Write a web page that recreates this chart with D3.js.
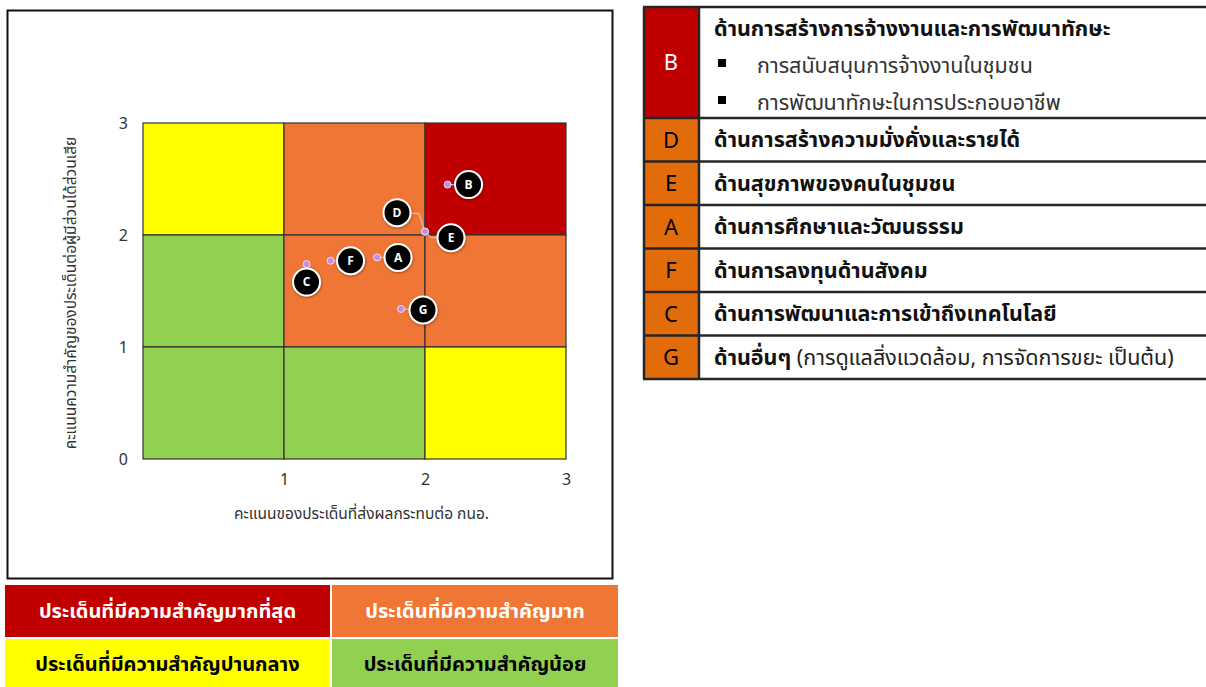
<!DOCTYPE html>
<html>
<head>
<meta charset="utf-8">
<script src="https://cdn.jsdelivr.net/npm/d3@7"></script>
<style>
  body { margin: 0; background: #fff; }
  svg { display: block; }
  text { font-family: "Noto Sans Thai", Tahoma, "Leelawadee UI", "Noto Sans", sans-serif; }
</style>
</head>
<body>
<div id="chart"></div>
<script>
// Chart data
const issueIds = ["B", "D", "E", "A", "F", "C", "G"];
const impactScore = [2.16, 2.0, 2.0, 1.66, 1.33, 1.16, 1.83];      // x
const stakeholderScore = [2.45, 2.03, 2.03, 1.80, 1.77, 1.74, 1.34]; // y
const xTicks = [1, 2, 3];
const yTicks = [0, 1, 2, 3];
// quadrant colours, rows from top (y 2-3) to bottom (y 0-1)
const zoneGrid = [
  ["yellow", "orange", "red"],
  ["green", "orange", "orange"],
  ["green", "green", "yellow"]
];
const xTitle = "คะแนนของประเด็นที่ส่งผลกระทบต่อ กนอ.";
const yTitle = "คะแนนความสำคัญของประเด็นต่อผู้มีส่วนได้ส่วนเสีย";

// Table data
const tableIds = ["B", "D", "E", "A", "F", "C", "G"];
const tableTitles = [
  "ด้านการสร้างการจ้างงานและการพัฒนาทักษะ",
  "ด้านการสร้างความมั่งคั่งและรายได้",
  "ด้านสุขภาพของคนในชุมชน",
  "ด้านการศึกษาและวัฒนธรรม",
  "ด้านการลงทุนด้านสังคม",
  "ด้านการพัฒนาและการเข้าถึงเทคโนโลยี",
  "ด้านอื่นๆ"
];
const tableNotes = ["", "", "", "", "", "", " (การดูแลสิ่งแวดล้อม, การจัดการขยะ เป็นต้น)"];
const bSubItems = ["การสนับสนุนการจ้างงานในชุมชน", "การพัฒนาทักษะในการประกอบอาชีพ"];

// Legend data
const legendLabels = [
  "ประเด็นที่มีความสำคัญมากที่สุด",
  "ประเด็นที่มีความสำคัญมาก",
  "ประเด็นที่มีความสำคัญปานกลาง",
  "ประเด็นที่มีความสำคัญน้อย"
];
const legendZones = ["red", "orange", "yellow", "green"];

// styles
const zoneColor = { red: "#C00000", orange: "#EF7634", yellow: "#FFFF00", green: "#92D050" };
const legendText = { red: "#fff", orange: "#fff", yellow: "#000", green: "#000" };
// label bubble placement relative to its dot (pixels)
const labelOffset = {
  B: [21, 0], D: [-28, -19], E: [26, 6], A: [21, 0], F: [20, 0], C: [0, 18], G: [22, 1]
};

const W = 1206, H = 687;
const svg = d3.select("#chart").append("svg").attr("width", W).attr("height", H);

const defs = svg.append("defs");
const sh = defs.append("filter").attr("id", "shadow").attr("x", "-50%").attr("y", "-50%").attr("width", "200%").attr("height", "200%");
sh.append("feDropShadow").attr("dx", 0.5).attr("dy", 1).attr("stdDeviation", 1).attr("flood-color", "#000").attr("flood-opacity", 0.4);

// Frame around chart
svg.append("rect").attr("x", 7.5).attr("y", 10.5).attr("width", 605).attr("height", 568)
  .attr("fill", "#fff").attr("stroke", "#111").attr("stroke-width", 2);

const x = d3.scaleLinear().domain([0, 3]).range([143, 566]);
const y = d3.scaleLinear().domain([0, 3]).range([459, 123]);

const plot = svg.append("g");

// quadrants
const cells = [];
zoneGrid.forEach((row, r) => row.forEach((z, c) => cells.push({ r, c, z })));
plot.selectAll("rect.cell").data(cells).join("rect")
  .attr("class", "cell")
  .attr("x", d => x(d.c))
  .attr("y", d => y(3 - d.r))
  .attr("width", d => x(d.c + 1) - x(d.c))
  .attr("height", d => y(2 - d.r) - y(3 - d.r))
  .attr("fill", d => zoneColor[d.z])
  .attr("stroke", "#333")
  .attr("stroke-width", 1.2);

// axes
const xAxis = svg.append("g").attr("transform", `translate(0,${y(0) + 9})`)
  .call(d3.axisBottom(x).tickValues(xTicks).tickSize(0).tickFormat(d3.format("d")));
xAxis.select(".domain").remove();
xAxis.selectAll("text").attr("font-size", 16).attr("fill", "#333").attr("dy", "0.9em")
  .attr("font-family", "Tahoma, 'DejaVu Sans', sans-serif");

const yAxis = svg.append("g").attr("transform", `translate(${x(0) - 12},0)`)
  .call(d3.axisLeft(y).tickValues(yTicks).tickSize(0).tickFormat(d3.format("d")));
yAxis.select(".domain").remove();
yAxis.selectAll("text").attr("font-size", 16).attr("fill", "#333")
  .attr("font-family", "Tahoma, 'DejaVu Sans', sans-serif");

svg.append("text").attr("x", (x(0) + x(3)) / 2 + 7).attr("y", 519)
  .attr("text-anchor", "middle").attr("font-size", 15.5).attr("fill", "#333").text(xTitle);
svg.append("text").attr("transform", `translate(76,${(y(0) + y(3)) / 2 + 2}) rotate(-90)`)
  .attr("text-anchor", "middle").attr("font-size", 15.5).attr("fill", "#333").text(yTitle);

// points
const pts = issueIds.map((id, i) => {
  const px = x(impactScore[i]), py = y(stakeholderScore[i]);
  const o = labelOffset[id];
  return { id, px, py, lx: px + o[0], ly: py + o[1] };
});

// leader lines
plot.selectAll("path.leader").data(pts).join("path")
  .attr("class", "leader")
  .attr("d", d => {
    if (d.id === "D") return `M${d.px},${d.py} L${d.px - 6},${d.ly + 1} L${d.lx},${d.ly}`;
    if (d.id === "E") return `M${d.px},${d.py} L${d.px + 6},${d.ly} L${d.lx},${d.ly}`;
    return `M${d.px},${d.py} L${d.lx},${d.ly}`;
  })
  .attr("fill", "none").attr("stroke", "#c8c8c8").attr("stroke-width", 1.2);

plot.selectAll("circle.dot").data(pts).join("circle")
  .attr("class", "dot")
  .attr("cx", d => d.px).attr("cy", d => d.py).attr("r", 3.5)
  .attr("fill", "#c38ee6").attr("stroke", "#f0dcf5").attr("stroke-width", 1);

const bub = plot.selectAll("g.bubble").data(pts).join("g")
  .attr("class", "bubble")
  .attr("transform", d => `translate(${d.lx},${d.ly})`);
bub.append("circle").attr("r", 13.5).attr("fill", "#000")
  .attr("stroke", "#fff").attr("stroke-width", 2).attr("filter", "url(#shadow)");
bub.append("text").attr("text-anchor", "middle").attr("dy", "0.36em")
  .attr("font-size", 12).attr("font-weight", "bold").attr("fill", "#fff")
  .attr("font-family", "Tahoma, 'DejaVu Sans', sans-serif")
  .text(d => d.id);

// Table
const tx0 = 643, tx1 = 699, tx2 = 1206;
const rowTops = [7, 118];
for (let i = 1; i < tableIds.length; i++) rowTops.push(118 + i * 43.5);
const rows = tableIds.map((id, i) => ({
  id, title: tableTitles[i], note: tableNotes[i],
  y0: rowTops[i], y1: i === 0 ? 118 : rowTops[i] + 43.5
}));
const table = svg.append("g");
table.selectAll("rect.idcell").data(rows).join("rect")
  .attr("class", "idcell")
  .attr("x", tx0).attr("y", d => d.y0).attr("width", tx1 - tx0).attr("height", d => d.y1 - d.y0)
  .attr("fill", d => d.id === "B" ? "#C00000" : "#E36C0A");
table.selectAll("text.id").data(rows).join("text")
  .attr("class", "id")
  .attr("x", (tx0 + tx1) / 2).attr("y", d => (d.y0 + d.y1) / 2).attr("dy", "0.36em")
  .attr("text-anchor", "middle").attr("font-size", 22)
  .attr("font-family", "'Open Sans', 'Noto Sans', sans-serif")
  .attr("fill", d => d.id === "B" ? "#fff" : "#000")
  .text(d => d.id);

const rowText = table.selectAll("text.title").data(rows).join("text")
  .attr("class", "title")
  .attr("x", 714)
  .attr("y", d => d.id === "B" ? 28 : (d.y0 + d.y1) / 2)
  .attr("dy", "0.36em").attr("font-size", 21.5).attr("fill", "#111");
rowText.append("tspan").attr("font-weight", "bold").text(d => d.title);
rowText.append("tspan").attr("fill", "#222").text(d => d.note);

table.selectAll("rect.bullet").data(bSubItems).join("rect")
  .attr("class", "bullet")
  .attr("x", 718).attr("y", (d, i) => 59 + i * 37).attr("width", 8).attr("height", 8).attr("fill", "#000");
table.selectAll("text.sub").data(bSubItems).join("text")
  .attr("class", "sub")
  .attr("x", 757).attr("y", (d, i) => 65 + i * 37).attr("dy", "0.36em")
  .attr("font-size", 21.5).attr("fill", "#333").text(d => d);

// table grid lines
const hLines = rows.map(d => d.y0).concat([rows[rows.length - 1].y1]);
table.selectAll("line.h").data(hLines).join("line")
  .attr("class", "h")
  .attr("x1", tx0).attr("x2", tx2).attr("y1", d => d).attr("y2", d => d)
  .attr("stroke", "#262626").attr("stroke-width", 2.5);
table.selectAll("line.v").data([tx0 + 1, tx1]).join("line")
  .attr("class", "v")
  .attr("x1", d => d).attr("x2", d => d).attr("y1", 7).attr("y2", hLines[hLines.length - 1])
  .attr("stroke", "#262626").attr("stroke-width", 2.5);

// Legend
const legend = svg.append("g");
const lg = legendLabels.map((t, i) => ({
  t, z: legendZones[i],
  x0: i % 2 === 0 ? 5 : 332, x1: i % 2 === 0 ? 330 : 618,
  y0: i < 2 ? 585 : 639, y1: i < 2 ? 637 : 688
}));
legend.selectAll("rect").data(lg).join("rect")
  .attr("x", d => d.x0).attr("y", d => d.y0).attr("width", d => d.x1 - d.x0).attr("height", d => d.y1 - d.y0)
  .attr("fill", d => zoneColor[d.z]);
legend.selectAll("text").data(lg).join("text")
  .attr("x", d => (d.x0 + d.x1) / 2).attr("y", d => (d.y0 + d.y1) / 2).attr("dy", "0.36em")
  .attr("text-anchor", "middle").attr("font-size", 20).attr("font-weight", "bold")
  .attr("fill", d => legendText[d.z]).text(d => d.t);
</script>
</body>
</html>
